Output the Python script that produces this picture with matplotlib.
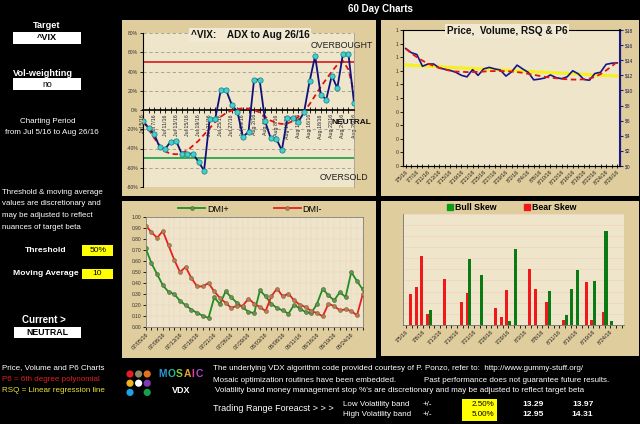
import numpy as np
import pandas as pd
import matplotlib
matplotlib.use("Agg")
import matplotlib.pyplot as plt
from matplotlib.patches import Rectangle, Ellipse
from matplotlib.lines import Line2D

plt.rcParams['font.family'] = ['Liberation Sans', 'DejaVu Sans']

# ---------------- data ----------------
dates = pd.bdate_range('2016-07-05', '2016-08-26')   # 39 trading days
target = "^VIX"
vol_weighting = "no"
threshold = 50          # %
moving_average = 10
current_state = "NEUTRAL"

adx = [-11, -18.9, -25, -38.5, -40.2, -32.9, -32.5, -45.8, -45.5, -45.5, -53.9, -62.9,
       -9.8, -9.4, 20.3, 20.3, 5.2, -1.7, -28.0, -22.7, 31.5, 31.5, -11.9, -29.4, -29.7,
       -42.0, -8.4, -8.7, -12.0, -2.4, 29.7, 56.3, 16.1, 10.8, 35.7, 22.7, 58.0, 58.0, 7.7]
adx_ma = [-12, -20, -29, -37, -43, -45.5, -46, -44.5, -42, -37, -32, -25.5, -19, -12.5,
          -7, -3, -0.5, 1, 1.8, 1.5, 0, -2.5, -7, -11, -13.5, -14.5, -14, -11.5, -7, -1.5,
          6, 15, 24, 32, 40, 47, 51, 42, 18]

price = [15.55, 15.0, 14.75, 13.2, 13.5, 13.5, 13.0, 12.8, 12.65, 12.4, 12.0, 11.8, 12.75,
         12.0, 12.85, 13.05, 12.85, 12.7, 11.9, 12.45, 13.35, 12.85, 12.4, 11.4, 11.5, 11.65,
         12.05, 11.7, 11.55, 11.8, 12.6, 12.2, 11.45, 11.35, 12.25, 12.4, 13.45, 13.6, 13.65]
p6 = [15.53, 14.9, 14.4, 13.95, 13.55, 13.24, 12.97, 12.79, 12.6, 12.5, 12.47, 12.43, 12.43,
      12.47, 12.5, 12.56, 12.56, 12.56, 12.56, 12.5, 12.43, 12.34, 12.2, 12.07, 11.93, 11.8,
      11.7, 11.62, 11.53, 11.48, 11.44, 11.44, 11.48, 11.57, 11.8, 12.16, 12.65, 13.19, 13.8]
rsq_ends = [13.37, 11.9]      # linear regression line, first and last day
volume = [0] * 39             # index has no volume

dmi_plus = [0.714, 0.58, 0.48, 0.38, 0.32, 0.30, 0.24, 0.20, 0.16, 0.13, 0.105, 0.085, 0.27,
            0.21, 0.325, 0.27, 0.22, 0.18, 0.14, 0.128, 0.334, 0.28, 0.213, 0.174, 0.153,
            0.123, 0.204, 0.168, 0.138, 0.128, 0.213, 0.349, 0.288, 0.243, 0.318, 0.273,
            0.499, 0.418, 0.343]
dmi_minus = [0.92, 0.86, 0.81, 0.87, 0.74, 0.61, 0.50, 0.545, 0.445, 0.37, 0.37, 0.40, 0.325,
             0.265, 0.22, 0.175, 0.195, 0.195, 0.26, 0.213, 0.183, 0.147, 0.28, 0.35, 0.28,
             0.304, 0.243, 0.204, 0.183, 0.147, 0.129, 0.099, 0.213, 0.192, 0.153, 0.162,
             0.147, 0.108, 0.297]

bull_skew = [0, 0, 0, 0, 0.134, 0, 0, 0, 0, 0, 0, 0.589, 0, 0.446, 0, 0, 0, 0, 0.036, 0.679,
             0, 0, 0, 0, 0, 0.304, 0, 0, 0.089, 0.324, 0.497, 0, 0, 0.399, 0, 0.842, 0.036, 0, 0]
bear_skew = [0, 0.277, 0.339, 0.616, 0.095, 0, 0, 0.417, 0, 0, 0.205, 0.286, 0, 0, 0, 0,
             0.155, 0.068, 0.3125, 0, 0, 0, 0.506, 0.327, 0, 0.205, 0, 0, 0.048, 0, 0, 0,
             0.384, 0.042, 0, 0.113, 0, 0, 0]

band_pct = ["2.50%", "5.00%"]
band_low = ["13.29", "12.95"]
band_high = ["13.97", "14.31"]

# ---------------- layout helpers ----------------
W, H = 640, 424
fig = plt.figure(figsize=(W / 100, H / 100), dpi=100, facecolor='black')


def rect(x0, y0, x1, y1):
    return [x0 / W, 1 - y1 / H, (x1 - x0) / W, (y1 - y0) / H]


def ftext(x, y, s, **kw):
    kw.setdefault('va', 'center')
    kw.setdefault('color', 'white')
    return fig.text(x / W, 1 - y / H, s, **kw)


def fbox(x0, y0, x1, y1, fc, z=-5):
    fig.add_artist(Rectangle((x0 / W, 1 - y1 / H), (x1 - x0) / W, (y1 - y0) / H,
                             transform=fig.transFigure, facecolor=fc, edgecolor='none',
                             zorder=z))


PANEL = '#e0cd9d'
INNER = '#eee5cb'
GRIDP = '#efd3c2'

for b in [(122, 20, 376, 196), (381, 20, 639, 196), (122, 201, 376, 358), (381, 201, 639, 356)]:
    fbox(*b, PANEL, -10)

x = np.arange(len(dates))
lab_adx = [f"{d:%b} {d.day}/{d:%y}" for d in dates]
lab_us = [f"{d.month}/{d.day}/{d:%y}" for d in dates]
lab_dmi = [d.strftime('%m/%d/%y') for d in dates]

# ---------------- ADX chart ----------------
ax1 = fig.add_axes(rect(143, 33, 354, 187))
ax1.set_facecolor(INNER)
ax1.set_xlim(0, len(x) - 1)
ax1.set_ylim(-80, 80)
yt = np.arange(-80, 81, 20)
ax1.set_yticks(yt)
ax1.set_yticklabels([f"{v}%" for v in yt], fontsize=3.6, color='#303030')
for v in yt:
    if v != 0:
        ax1.axhline(v, color='#a09a8c', lw=0.6, ls=(0, (4, 3)), zorder=1)
ax1.axhline(threshold, color='#d81818', lw=1.2, zorder=2)
ax1.axhline(-threshold, color='#18a040', lw=1.2, zorder=2)
ax1.spines['bottom'].set_position(('data', 0))
ax1.spines['bottom'].set_linewidth(1.2)
ax1.spines['top'].set_visible(False)
ax1.spines['right'].set_color('#a0a0a0')
ax1.spines['right'].set_linewidth(0.6)
ax1.set_xticks(x)
ax1.set_xticklabels([l if i % 2 == 0 else '' for i, l in enumerate(lab_adx)],
                    rotation=90, fontsize=3.8, color='#202020')
ax1.tick_params(axis='x', direction='inout', length=4, width=0.6, pad=1)
ax1.tick_params(axis='y', direction='out', length=2.5, width=0.6, pad=1)
ax1.plot(x, adx_ma, color='#e01010', lw=1.3, ls=(0, (3, 2)), zorder=3)
ax1.plot(x, adx, color='#10107a', lw=1.3, marker='o', ms=3.8, mfc='#40d0d0',
         mec='#1a7a7a', mew=0.5, zorder=4)
ftext(250, 35, f"{target}:    ADX to Aug 26/16", ha='center', fontsize=7.2,
      fontweight='bold', color='#101010',
      bbox=dict(facecolor='#f1e9d2', edgecolor='none', pad=1.5))
ftext(342, 45, "OVERBOUGHT", ha='center', fontsize=6.3, color='#202020')
ftext(351, 123, "NEUTRAL", ha='center', fontsize=6, color='#101010', fontweight='bold')
ftext(344, 177, "OVERSOLD", ha='center', fontsize=6.3, color='#202020')

# ---------------- Price chart ----------------
ax2 = fig.add_axes(rect(403, 30, 620, 166))
ax2.set_facecolor(INNER)
ax2.set_xlim(-0.5, len(x) - 0.5)
ax2.set_ylim(0, 1)
lt = np.linspace(0, 1, 11)
ax2.set_yticks(lt)
ax2.set_yticklabels([str(int(np.floor(v + 0.5 + 1e-9))) for v in lt], fontsize=3.6,
                    color='#303030')
ax2.bar(x, volume, color='#8080c0')
ax2.set_xticks(x)
ax2.set_xticklabels([l if i % 2 == 0 else '' for i, l in enumerate(lab_us)], rotation=45,
                    ha='right', rotation_mode='anchor', fontsize=4, color='#202020')
ax2.tick_params(axis='x', direction='inout', length=3, width=0.6, pad=1)
ax2.tick_params(axis='y', direction='out', length=2, width=0.6, pad=1)
for s in ['left', 'bottom']:
    ax2.spines[s].set_color('#505050')
ax2.spines['top'].set_color('#909090')
ax2.spines['top'].set_linewidth(0.6)
ax2r = ax2.twinx()
ax2r.set_ylim(0, 18)
rt = np.arange(0, 19, 2)
ax2r.set_yticks(rt)
ax2r.set_yticklabels([f"${v}" for v in rt], fontsize=3.6, color='#1a1a5a')
ax2r.spines['right'].set_color('#1a1a80')
ax2r.spines['right'].set_linewidth(1.5)
ax2r.tick_params(axis='y', colors='#1a1a80', direction='out', length=2.5, width=0.8, pad=1)
ax2r.tick_params(axis='y', labelcolor='#1a1a5a')
ax2r.plot([x[0], x[-1]], rsq_ends, color='#f5f020', lw=2.2, zorder=2)
ax2r.plot(x, price, color='#16168a', lw=1.2, zorder=3)
ax2r.plot(x, p6, color='#e01414', lw=1.3, ls=(0, (3, 2)), zorder=4)
ftext(507, 31, "Price,  Volume, RSQ & P6", ha='center', fontsize=7.2, fontweight='bold',
      color='#101010', bbox=dict(facecolor='#f1e9d2', edgecolor='none', pad=1.5))

# ---------------- DMI chart ----------------
ax3 = fig.add_axes(rect(145.7, 216.7, 362.7, 327.3))
ax3.set_facecolor(INNER)
ax3.set_xlim(0, len(x) - 1)
ax3.set_ylim(0, 1)
dt = np.arange(0, 1.001, 0.1)
ax3.set_yticks(dt)
ax3.set_yticklabels([f"{v:.2f}" for v in dt], fontsize=3.5, color='#303030')
ax3.set_xticks(x)
ax3.set_xticklabels([l if i % 3 == 0 else '' for i, l in enumerate(lab_dmi)], rotation=45,
                    ha='right', rotation_mode='anchor', fontsize=4, color='#202020')
ax3.grid(True, color=GRIDP, lw=0.35, zorder=0)
ax3.set_axisbelow(True)
ax3.tick_params(axis='x', direction='out', length=2.5, width=0.6, pad=1)
ax3.tick_params(axis='y', direction='out', length=2, width=0.6, pad=1)
for s in ax3.spines.values():
    s.set_color('#808080')
    s.set_linewidth(0.6)
l1, = ax3.plot(x, dmi_plus, color='#1e901e', lw=1.3, marker='o', ms=2.8, mfc='#6e8e55',
               mec='#3a6a2a', mew=0.4, zorder=3)
l2, = ax3.plot(x, dmi_minus, color='#e82020', lw=1.3, marker='o', ms=2.8, mfc='#b08050',
               mec='#8a5a3a', mew=0.4, zorder=3)
ax3.legend([l1, l2], ['DMI+', 'DMI-'], ncol=2, loc='center',
           bbox_to_anchor=(250 / W, 1 - 209 / H), bbox_transform=fig.transFigure,
           frameon=False, fontsize=6.5, handlelength=3, columnspacing=5, handletextpad=0.2)

# ---------------- Skew chart ----------------
ax4 = fig.add_axes(rect(403.3, 213.5, 624.4, 325))
ax4.set_facecolor(INNER)
ax4.set_xlim(-0.5, len(x) - 0.5)
ax4.set_ylim(0, 1)
ax4.set_yticks(dt)
ax4.tick_params(axis='y', labelleft=False, length=0)
ax4.yaxis.grid(True, color=GRIDP, lw=0.5)
ax4.set_axisbelow(True)
ax4.bar(x - 0.24, bear_skew, width=0.56, color='#f01818', zorder=2)
ax4.bar(x + 0.24, bull_skew, width=0.56, color='#0a7a14', zorder=3)
ax4.set_xticks(x)
ax4.set_xticklabels([l if i % 3 == 0 else '' for i, l in enumerate(lab_us)], rotation=45,
                    ha='right', rotation_mode='anchor', fontsize=4, color='#202020')
ax4.tick_params(axis='x', direction='out', length=2, width=0.6, pad=1)
for s in ['top', 'right']:
    ax4.spines[s].set_visible(False)
for s in ['left', 'bottom']:
    ax4.spines[s].set_color('#707070')
    ax4.spines[s].set_linewidth(0.6)
h1 = Line2D([], [], ls='none', marker='s', ms=4.5, color='#0a9a14')
h2 = Line2D([], [], ls='none', marker='s', ms=4.5, color='#f01818')
ax4.legend([h1, h2], ['Bull Skew', 'Bear Skew'], ncol=2, loc='center',
           bbox_to_anchor=(511 / W, 1 - 207.7 / H), bbox_transform=fig.transFigure,
           frameon=False, prop=dict(size=6.3, weight='bold'), handletextpad=0.1,
           columnspacing=3, handlelength=1)

# ---------------- header & left column ----------------
ftext(380, 9, "60 Day Charts", ha='center', fontsize=7, fontweight='bold')

ftext(47, 26, "Target", ha='center', fontsize=6.6, fontweight='bold')
fbox(13, 32, 81, 43.5, 'white')
ftext(47, 38, target, ha='center', fontsize=6.6, fontweight='bold', color='black')
ftext(43, 73, "Vol-weighting", ha='center', fontsize=6.6, fontweight='bold')
fbox(13, 78.5, 81, 90, 'white')
ftext(47, 84.5, vol_weighting, ha='center', fontsize=6.3, color='black')
ftext(48, 121, "Charting Period", ha='center', fontsize=5.8)
ftext(52, 132, "from Jul 5/16 to Aug 26/16", ha='center', fontsize=5.8)
for i, s in enumerate(["Threshold & moving average", "values are discretionary and",
                       "may be adjusted to reflect", "nuances of target beta"]):
    ftext(2, 192 + 11.7 * i, s, ha='left', fontsize=5.7)
ftext(66.5, 250, "Threshold", ha='right', fontsize=6.1, fontweight='bold')
fbox(82, 245, 113, 255.5, '#ffff00')
ftext(98, 250.3, f"{threshold}%", ha='center', fontsize=6.1, color='black')
ftext(78.5, 273.3, "Moving Average", ha='right', fontsize=6.1, fontweight='bold')
fbox(82, 268.5, 113, 278.5, '#ffff00')
ftext(97.5, 273.5, f"{moving_average}", ha='center', fontsize=6.1, color='black')
ftext(43.5, 320, "Current >", ha='center', fontsize=7, fontweight='bold')
fbox(14, 327, 80.5, 337.5, 'white')
ftext(47, 332.5, current_state, ha='center', fontsize=6.3, fontweight='bold', color='black')
ftext(2, 367.5, "Price, Volume and P6 Charts", ha='left', fontsize=5.8)
ftext(2, 379.5, "P6 = 6th degree polynomial", ha='left', fontsize=5.8, color='#e02020')
ftext(2, 391, "RSQ = Linear regression line", ha='left', fontsize=5.8, color='#e6e632')

# ---------------- logo ----------------
dot_cols = [['#e81c24', '#8c8a64', '#e8701c'],
            ['#f0b418', '#ffffff', '#7a3cb4'],
            ['#1ea0e6', None, '#14a050']]
for r, row in enumerate(dot_cols):
    for c, col in enumerate(row):
        if col is None:
            continue
        cx, cy = 130 + 8.6 * c, 374 + 9.2 * r
        fig.add_artist(Ellipse((cx / W, 1 - cy / H), 7.2 / W, 7.2 / H,
                               transform=fig.transFigure, facecolor=col, edgecolor='none'))
for ch, lx, col in zip("MOSAIC", [158.3, 167.3, 176.0, 183.3, 191.5, 195.5],
                       ['#2a9ad8', '#22b8a0', '#8cc83c', '#e8a030', '#e8409a', '#b048d0']):
    ftext(lx, 374, ch, ha='left', fontsize=7.4, fontweight='bold', color=col)
ftext(181, 390.7, "VDX", ha='center', fontsize=6.5, fontweight='bold')

# ---------------- bottom notes ----------------
ftext(213, 368.5, "The underlying VDX algorithm code provided courtesy of P. Ponzo, refer to:  "
      "http://www.gummy-stuff.org/", ha='left', fontsize=5.8)
ftext(213, 380, "Mosaic optimization routines have been embedded.", ha='left', fontsize=5.8)
ftext(424, 380, "Past performance does not guarantee future results.", ha='left', fontsize=5.8)
ftext(215, 391, "Volatility band money management stop %'s are discretionary and may be "
      "adjusted to reflect target beta", ha='left', fontsize=5.8)
ftext(213, 408.5, "Trading Range Foreacst > > >", ha='left', fontsize=6.5)
fbox(461.7, 399, 496.5, 420.5, '#ffff00')
for j, (name, yy) in enumerate([("Low Volatility band", 404), ("High Volatility band", 415)]):
    ftext(343.3, yy, name, ha='left', fontsize=5.8)
    ftext(423, yy, "+/-", ha='left', fontsize=5.8)
    ftext(494.5, yy, band_pct[j], ha='right', fontsize=5.8, color='black')
    ftext(533.3, yy, band_low[j], ha='center', fontsize=6.1, fontweight='bold')
    ftext(582.7, yy, band_high[j], ha='center', fontsize=6.1, fontweight='bold')

fig.savefig("out.png", dpi=100, facecolor='black')
